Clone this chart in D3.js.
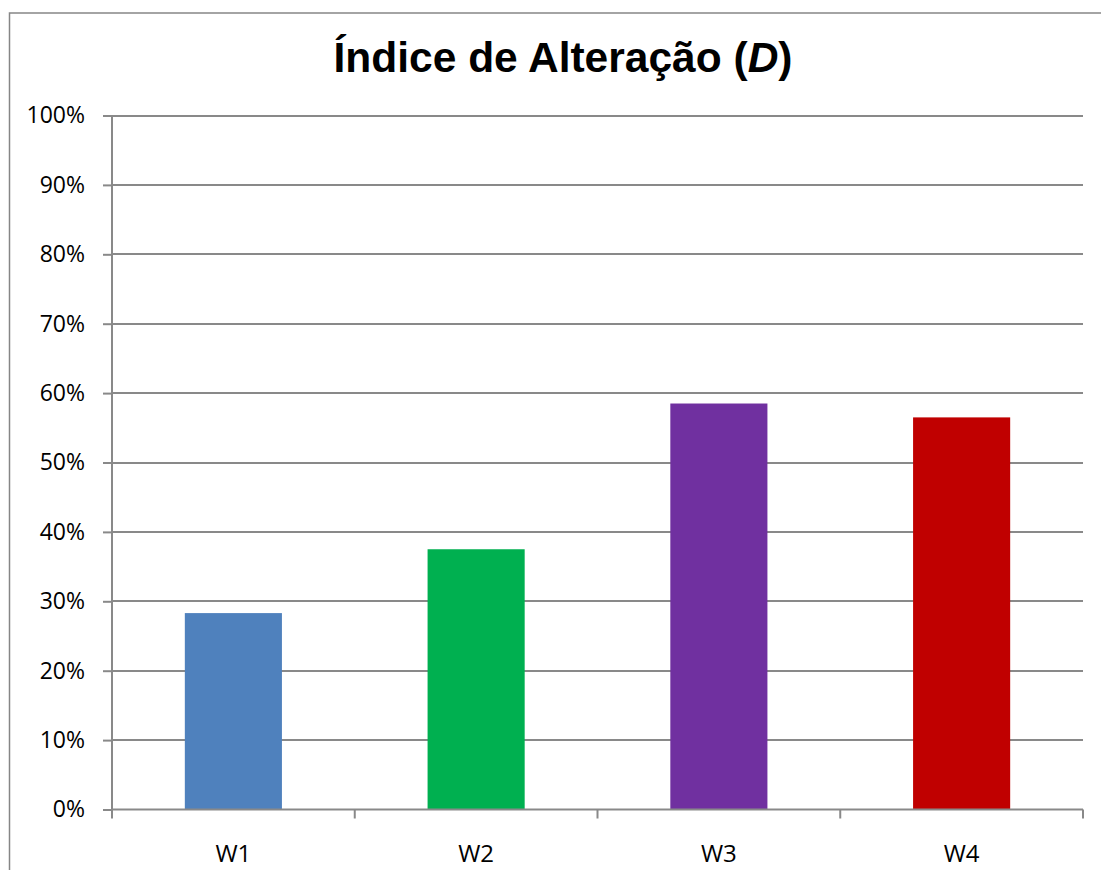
<!DOCTYPE html>
<html>
<head>
<meta charset="utf-8">
<script src="https://cdn.jsdelivr.net/npm/d3@7"></script>
<style>
  html, body { margin: 0; padding: 0; background: #fff; overflow: hidden; }
  text { font-family: "Open Sans", sans-serif; fill: #000; }
  #title { font-family: "Liberation Sans", Arial, sans-serif; font-weight: bold; }
</style>
</head>
<body>
<div class="canvas"></div>
<script>
// data
const categories = ["W1", "W2", "W3", "W4"];
const values = [0.283, 0.375, 0.585, 0.565];
const colors = ["#4f81bd", "#00b050", "#7030a0", "#c00000"];
const yTicks = [0, 0.1, 0.2, 0.3, 0.4, 0.5, 0.6, 0.7, 0.8, 0.9, 1.0];

// margins and dimensions
const w = 1101;
const h = 870;
const plot = { left: 112, right: 1083, top: 115.5, bottom: 809.5 };
const gridColor = "#898989";

const svg = d3.select(".canvas").append("svg").attr("width", w).attr("height", h);

// outer chart border (runs past the window on right and bottom)
svg.append("rect")
  .attr("x", 9.5).attr("y", 13)
  .attr("width", 1200).attr("height", 1000)
  .attr("fill", "none")
  .attr("stroke", "#868686")
  .attr("stroke-width", 1.5);

// title
const title = svg.append("text")
  .attr("id", "title")
  .attr("x", 563)
  .attr("y", 72)
  .attr("text-anchor", "middle")
  .style("font-size", "42.5px");
title.append("tspan").text("Índice de Alteração (");
title.append("tspan").style("font-style", "italic").text("D");
title.append("tspan").text(")");

// scales
const x = d3.scaleBand().domain(categories).range([plot.left, plot.right]).padding(0);
const y = d3.scaleLinear().domain([0, 1]).range([plot.bottom, plot.top]);

// gridlines
svg.append("g")
  .selectAll("line")
  .data(yTicks.filter((d) => d > 0))
  .enter()
  .append("line")
  .attr("x1", plot.left)
  .attr("x2", plot.right)
  .attr("y1", (d) => Math.round(y(d)))
  .attr("y2", (d) => Math.round(y(d)))
  .attr("stroke", gridColor)
  .attr("stroke-width", 2);

// bars, 40% of each category width, centred
const barW = x.bandwidth() * 0.4;
svg.append("g")
  .selectAll("rect")
  .data(values)
  .enter()
  .append("rect")
  .attr("x", (d, i) => x(categories[i]) + (x.bandwidth() - barW) / 2)
  .attr("y", (d) => y(d))
  .attr("width", barW)
  .attr("height", (d) => y(0) - y(d))
  .attr("fill", (d, i) => colors[i]);

// y axis
const yAxis = d3.axisLeft(y).tickValues(yTicks).tickFormat(d3.format(".0%")).tickSize(9).tickPadding(18);
const gy = svg.append("g").attr("transform", `translate(${plot.left},0)`).call(yAxis);
gy.select(".domain").attr("stroke", gridColor).attr("stroke-width", 2).attr("d", `M0,${plot.top}V${plot.bottom}`);
gy.selectAll(".tick line").attr("stroke", gridColor).attr("stroke-width", 2);
gy.selectAll(".tick text").style("font-size", "23px").style("font-family", "'Open Sans', sans-serif").attr("fill", "#000");

// x axis
const xAxis = d3.axisBottom(x).tickSize(0).tickPadding(35);
const gx = svg.append("g").attr("transform", `translate(0,${plot.bottom})`).call(xAxis);
gx.select(".domain").attr("stroke", gridColor).attr("stroke-width", 2).attr("d", `M${plot.left},0H${plot.right}`);
gx.selectAll(".tick text").style("font-size", "24px").style("font-family", "'Open Sans', sans-serif").attr("fill", "#000");

// category boundary ticks
const bounds = categories.map((c) => x(c)).concat([plot.right]);
gx.selectAll("line.bound")
  .data(bounds)
  .enter()
  .append("line")
  .attr("class", "bound")
  .attr("x1", (d) => d).attr("x2", (d) => d)
  .attr("y1", 0).attr("y2", 9)
  .attr("stroke", gridColor)
  .attr("stroke-width", 2);
</script>
</body>
</html>
